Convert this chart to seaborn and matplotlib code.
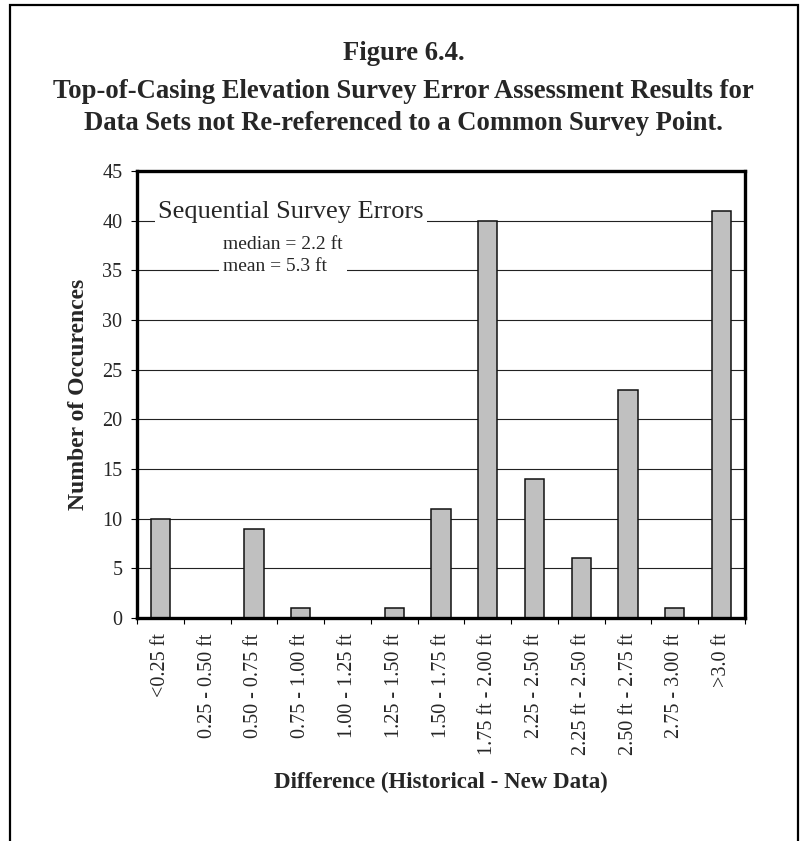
import numpy as np
import pandas as pd
import matplotlib
matplotlib.use("Agg")
import matplotlib.pyplot as plt
import seaborn as sns
from matplotlib.patches import Rectangle
from matplotlib.ticker import FixedLocator

sns.set_style("white")
plt.rcParams['font.family'] = ['Liberation Serif', 'DejaVu Serif']

categories = ["<0.25 ft", "0.25 - 0.50 ft", "0.50 - 0.75 ft", "0.75 - 1.00 ft",
              "1.00 - 1.25 ft", "1.25 - 1.50 ft", "1.50 - 1.75 ft", "1.75 ft - 2.00 ft",
              "2.25 - 2.50 ft", "2.25 ft - 2.50 ft", "2.50 ft - 2.75 ft", "2.75 - 3.00 ft",
              ">3.0 ft"]
counts = [10, 0, 9, 1, 0, 1, 11, 40, 14, 6, 23, 1, 41]
y_ticks = [0, 5, 10, 15, 20, 25, 30, 35, 40, 45]

title_lines = ["Figure 6.4.",
               "Top-of-Casing Elevation Survey Error Assessment Results for",
               "Data Sets not Re-referenced to a Common Survey Point."]
box_title = "Sequential Survey Errors"
box_stats = "median = 2.2 ft\nmean = 5.3 ft"

df = pd.DataFrame({"bin": categories, "n": counts})

W, H = 801, 841
fig = plt.figure(figsize=(W / 100, H / 100), dpi=100)
ax = fig.add_axes([137 / W, 1 - 618 / H, (745 - 137) / W, (618 - 171) / H])

sns.barplot(data=df, x="bin", y="n", order=categories, color="#C0C0C0",
            edgecolor="#111111", linewidth=1.1, width=0.41, saturation=1, ax=ax)

ax.set_ylim(0, 45)
ax.set_xlim(-0.5, len(categories) - 0.5)
ax.yaxis.set_major_locator(FixedLocator(y_ticks))
ax.set_axisbelow(True)
ax.yaxis.grid(True, color="#222222", linewidth=0.8)
ax.xaxis.grid(False)

for s in ax.spines.values():
    s.set_visible(True)
    s.set_color("black")
    s.set_linewidth(2.4)

# category boundary ticks on the x axis
ax.xaxis.set_minor_locator(FixedLocator(np.arange(-0.5, len(categories), 1.0)))
ax.tick_params(axis="x", which="major", length=0, pad=11, labelsize=14.5, rotation=90)
ax.tick_params(axis="x", which="minor", bottom=True, length=4.5, width=0.8, direction="out", color="black")
ax.tick_params(axis="y", which="major", left=True, length=4.5, width=0.8, direction="out",
               pad=6, labelsize=14.5, color="black")
for lab in ax.get_xticklabels():
    lab.set_va("top")
    lab.set_ha("center")

ax.set_xlabel("Difference (Historical - New Data)", fontsize=16.5, fontweight="bold")
ax.set_ylabel("Number of Occurences", fontsize=17, fontweight="bold")
ax.xaxis.set_label_coords(0.5, (618 - 782) / 447)
ax.xaxis.label.set_va("center")
ax.yaxis.set_label_coords((78 - 137) / 608, 0.5)
ax.yaxis.label.set_va("center")

ax.text(0.0345, 0.908, box_title, transform=ax.transAxes, fontsize=19, ha="left", va="center",
        bbox=dict(facecolor="white", edgecolor="none", pad=2), zorder=5)
ax.text(0.1414, 0.811, box_stats, transform=ax.transAxes, fontsize=14, ha="left", va="center",
        linespacing=1.45, bbox=dict(facecolor="white", edgecolor="none", pad=3), zorder=5)

title_y = [53, 92, 124]
for txt, yy in zip(title_lines, title_y):
    fig.text(0.504, 1 - yy / H, txt, ha="center", va="center", fontsize=19.2, fontweight="bold")

# outer frame, open at the bottom
fig.patches.append(Rectangle((10 / W, -0.05), (798 - 10) / W, 1.05 - 5 / H, fill=False,
                             edgecolor="black", linewidth=1.6, transform=fig.transFigure))

fig.savefig("out.png", dpi=100)
